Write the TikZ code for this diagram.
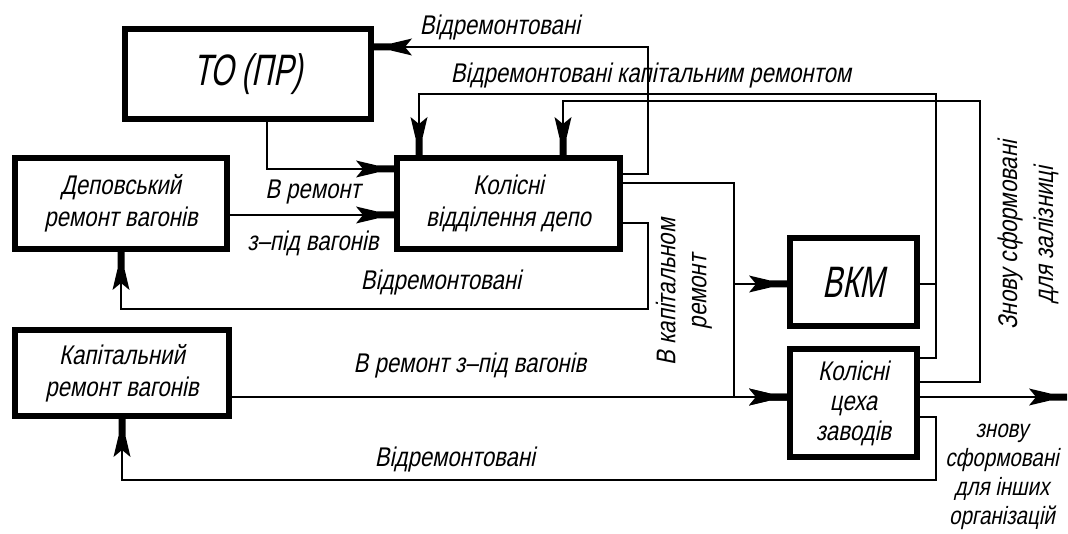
\documentclass[tikz,border=0pt]{standalone}
\usepackage{fontspec}
\setmainfont{Liberation Sans}[FakeSlant=0.2,FakeStretch=0.82]
\newfontfamily\bigf{Liberation Sans}[FakeSlant=0.2,FakeStretch=0.68]
\usetikzlibrary{arrows.meta}
\pgfdeclarearrow{
  name = Gost,
  setup code = {
    \pgfarrowssettipend{0pt}
    \pgfarrowssetlineend{-30pt}
    \pgfarrowssetbackend{-38pt}
    \pgfarrowssetvisualbackend{-38pt}
    \pgfarrowshullpoint{0pt}{3.5pt}
    \pgfarrowshullpoint{0pt}{-3.5pt}
    \pgfarrowshullpoint{-38pt}{8.5pt}
    \pgfarrowshullpoint{-38pt}{-8.5pt}
  },
  drawing code = {
    \pgfpathmoveto{\pgfpoint{0pt}{3.5pt}}
    \pgfpathlineto{\pgfpoint{-17pt}{3.5pt}}
    \pgfpathlineto{\pgfpoint{-38pt}{8.5pt}}
    \pgfpathlineto{\pgfpoint{-31pt}{0pt}}
    \pgfpathlineto{\pgfpoint{-38pt}{-8.5pt}}
    \pgfpathlineto{\pgfpoint{-17pt}{-3.5pt}}
    \pgfpathlineto{\pgfpoint{0pt}{-3.5pt}}
    \pgfpathclose
    \pgfusepathqfill
  },
  defaults = {}
}
\begin{document}
\begin{tikzpicture}[x=1pt,y=-1pt,
  lbl/.style={font=\fontsize{27}{31}\selectfont, inner sep=0pt, align=center},
  big/.style={font=\bigf\fontsize{44}{46}\selectfont},
  box/.style={draw, line width=6pt, align=center, inner sep=0pt, font=\fontsize{27}{32}\selectfont},
  conn/.style={line width=1.2pt},
  arr/.style={conn, -{Gost}}]
\useasboundingbox (0,0) rectangle (1068,534);
\fill[white] (0,0) rectangle (1068,534);

% boxes
\node[box, big, minimum width=246pt, minimum height=90pt] (TO) at (248,74) {ТО (ПР)};
\node[box, minimum width=212pt, minimum height=91pt] (Dep) at (121,203.5) {Деповський\\ремонт вагонів};
\node[box, minimum width=223pt, minimum height=91pt] (KVD) at (508.5,203.5) {Колісні\\відділення депо};
\node[box, big, minimum width=127pt, minimum height=88pt] (VKM) at (853.5,282) {ВКМ};
\node[box, minimum width=214pt, minimum height=86pt] (Kap) at (122,373) {Капітальний\\ремонт вагонів};
\node[box, minimum width=127pt, minimum height=108pt, font=\fontsize{27}{30}\selectfont] (KCZ) at (853.5,403) {Колісні\\цеха\\заводів};

\coordinate (out) at (1067,397);

% connectors
\draw[arr] ([xshift=19pt]TO.south) |- (KVD.west |- 0,169);
\draw[arr] (Dep.east |- 0,215) -- (KVD.west |- 0,215);
\draw[arr] (KVD.east |- 0,223) -| (648,309) -| (Dep.south);
\draw[arr] (KVD.east |- 0,174) -| (648,47) -- (TO.east |- 0,47);
\draw[arr] (KVD.east |- 0,183) -| (734,284) -- (VKM.west |- 0,284);
\draw[arr] (734,284) |- (KCZ.west |- 0,397);
\draw[arr] (Kap.east |- 0,397) -- (KCZ.west |- 0,397);
\draw[arr] (KCZ.east |- 0,417) -| (936,480) -| (Kap.south);
\draw[arr] (KCZ.east |- 0,397) -- (out);
\draw[arr] (VKM.east |- 0,284) -| (936,94) -| ([xshift=-89.5pt]KVD.north);
\draw[conn] (KCZ.east |- 0,358) -| (936,284);
\draw[arr] (KCZ.east |- 0,382) -| (980,101) -| ([xshift=54.5pt]KVD.north);

% labels
\node[lbl] (l1) at (500,28) {Відремонтовані};
\node[lbl] (l2) at (651,76) {Відремонтовані капітальним ремонтом};
\node[lbl] (l3) at (313,192) {В ремонт};
\node[lbl] (l4) at (313,243) {з–під вагонів};
\node[lbl] (l5) at (441,283) {Відремонтовані};
\node[lbl] (l6) at (470,366) {В ремонт з–під вагонів};
\node[lbl] (l7) at (455,460) {Відремонтовані};
\node[lbl, rotate=90] (l8) at (684,292) {В капітальном\\ремонт};
\node[lbl, rotate=90, font=\fontsize{27}{36}\selectfont] (l9) at (1028,235) {Знову сформовані\\для залізниці};
\node[lbl, font=\fontsize{25}{29}\selectfont] (l10) at (1002,477) {знову\\сформовані\\для інших\\організацій};
\end{tikzpicture}
\end{document}
